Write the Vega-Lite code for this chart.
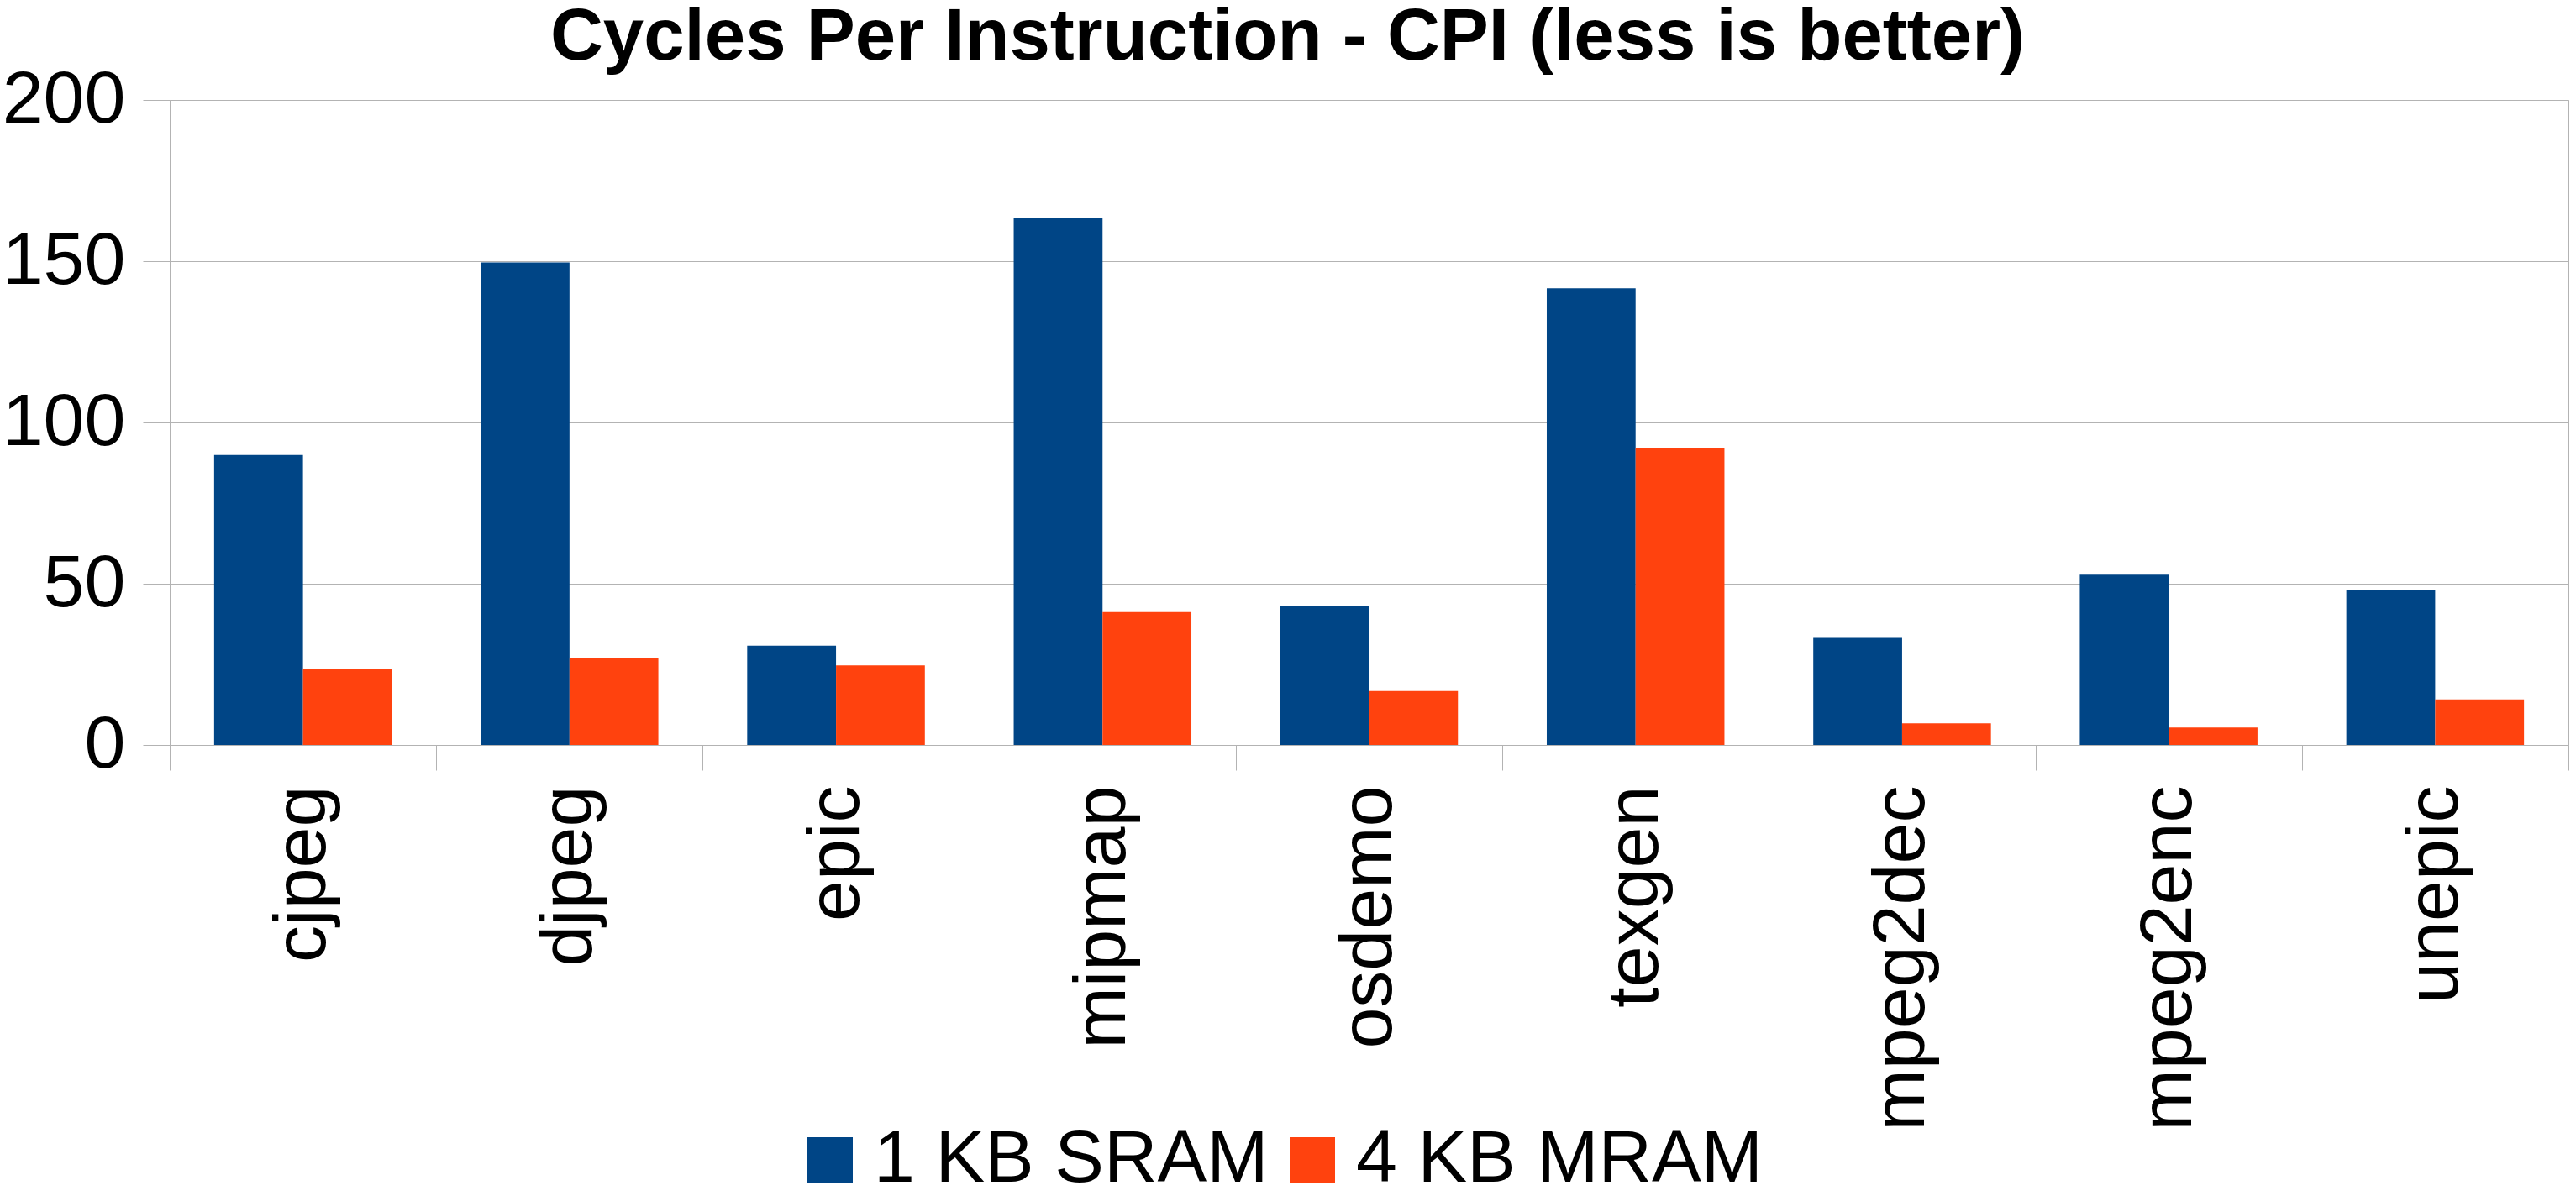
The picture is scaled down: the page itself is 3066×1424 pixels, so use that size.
{
  "$schema": "https://vega.github.io/schema/vega-lite/v6.json",
  "width": 2855,
  "height": 768,
  "autosize": {"type": "none"},
  "padding": {"left": 202, "top": 119, "right": 9, "bottom": 537},
  "background": "white",
  "title": {
    "text": "Cycles Per Instruction - CPI (less is better)",
    "font": "Liberation Sans",
    "fontSize": 87,
    "fontWeight": "bold",
    "color": "black",
    "anchor": "middle",
    "frame": "group",
    "dx": -97,
    "dy": 83,
    "baseline": "alphabetic",
    "offset": 0
  },
  "data": {
    "values": [
      {"benchmark": "cjpeg", "memory": "1 KB SRAM", "cpi": 89.9},
      {"benchmark": "cjpeg", "memory": "4 KB MRAM", "cpi": 23.7},
      {"benchmark": "djpeg", "memory": "1 KB SRAM", "cpi": 149.6},
      {"benchmark": "djpeg", "memory": "4 KB MRAM", "cpi": 26.8},
      {"benchmark": "epic", "memory": "1 KB SRAM", "cpi": 30.8},
      {"benchmark": "epic", "memory": "4 KB MRAM", "cpi": 24.7},
      {"benchmark": "mipmap", "memory": "1 KB SRAM", "cpi": 163.4},
      {"benchmark": "mipmap", "memory": "4 KB MRAM", "cpi": 41.2},
      {"benchmark": "osdemo", "memory": "1 KB SRAM", "cpi": 43.0},
      {"benchmark": "osdemo", "memory": "4 KB MRAM", "cpi": 16.7},
      {"benchmark": "texgen", "memory": "1 KB SRAM", "cpi": 141.6},
      {"benchmark": "texgen", "memory": "4 KB MRAM", "cpi": 92.1},
      {"benchmark": "mpeg2dec", "memory": "1 KB SRAM", "cpi": 33.2},
      {"benchmark": "mpeg2dec", "memory": "4 KB MRAM", "cpi": 6.7},
      {"benchmark": "mpeg2enc", "memory": "1 KB SRAM", "cpi": 52.8},
      {"benchmark": "mpeg2enc", "memory": "4 KB MRAM", "cpi": 5.4},
      {"benchmark": "unepic", "memory": "1 KB SRAM", "cpi": 48.0},
      {"benchmark": "unepic", "memory": "4 KB MRAM", "cpi": 14.1}
    ]
  },
  "mark": {"type": "bar"},
  "encoding": {
    "x": {
      "field": "benchmark",
      "type": "nominal",
      "sort": null,
      "scale": {"paddingInner": 0, "paddingOuter": 0},
      "axis": {
        "title": null,
        "labelAngle": -90,
        "labelPadding": 18,
        "labelLimit": 0,
        "tickSize": 30,
        "tickBand": "extent",
        "grid": false
      }
    },
    "xOffset": {
      "field": "memory",
      "type": "nominal",
      "scale": {"paddingInner": 0, "paddingOuter": 0.5}
    },
    "y": {
      "field": "cpi",
      "type": "quantitative",
      "scale": {"domain": [0, 200], "nice": false},
      "axis": {
        "title": null,
        "values": [0, 50, 100, 150, 200],
        "labelPadding": 21,
        "tickSize": 32,
        "grid": true
      }
    },
    "color": {
      "field": "memory",
      "type": "nominal",
      "scale": {"domain": ["1 KB SRAM", "4 KB MRAM"], "range": ["#004586", "#ff420e"]},
      "legend": {
        "title": null,
        "orient": "none",
        "direction": "horizontal",
        "legendX": 742,
        "legendY": 1218,
        "padding": 0,
        "symbolType": "square",
        "symbolSize": 2916,
        "symbolStrokeWidth": 0,
        "labelOffset": 8,
        "labelLimit": 0,
        "columnPadding": 8,
        "labelFont": "Liberation Sans",
        "labelFontSize": 88,
        "labelColor": "black"
      }
    }
  },
  "config": {
    "view": {"stroke": "#b3b3b3", "strokeWidth": 1},
    "axis": {
      "labelFont": "Liberation Sans",
      "labelFontSize": 88,
      "labelColor": "black",
      "domainColor": "#b3b3b3",
      "tickColor": "#b3b3b3",
      "gridColor": "#b3b3b3",
      "domainWidth": 1,
      "tickWidth": 1,
      "gridWidth": 1
    }
  }
}
